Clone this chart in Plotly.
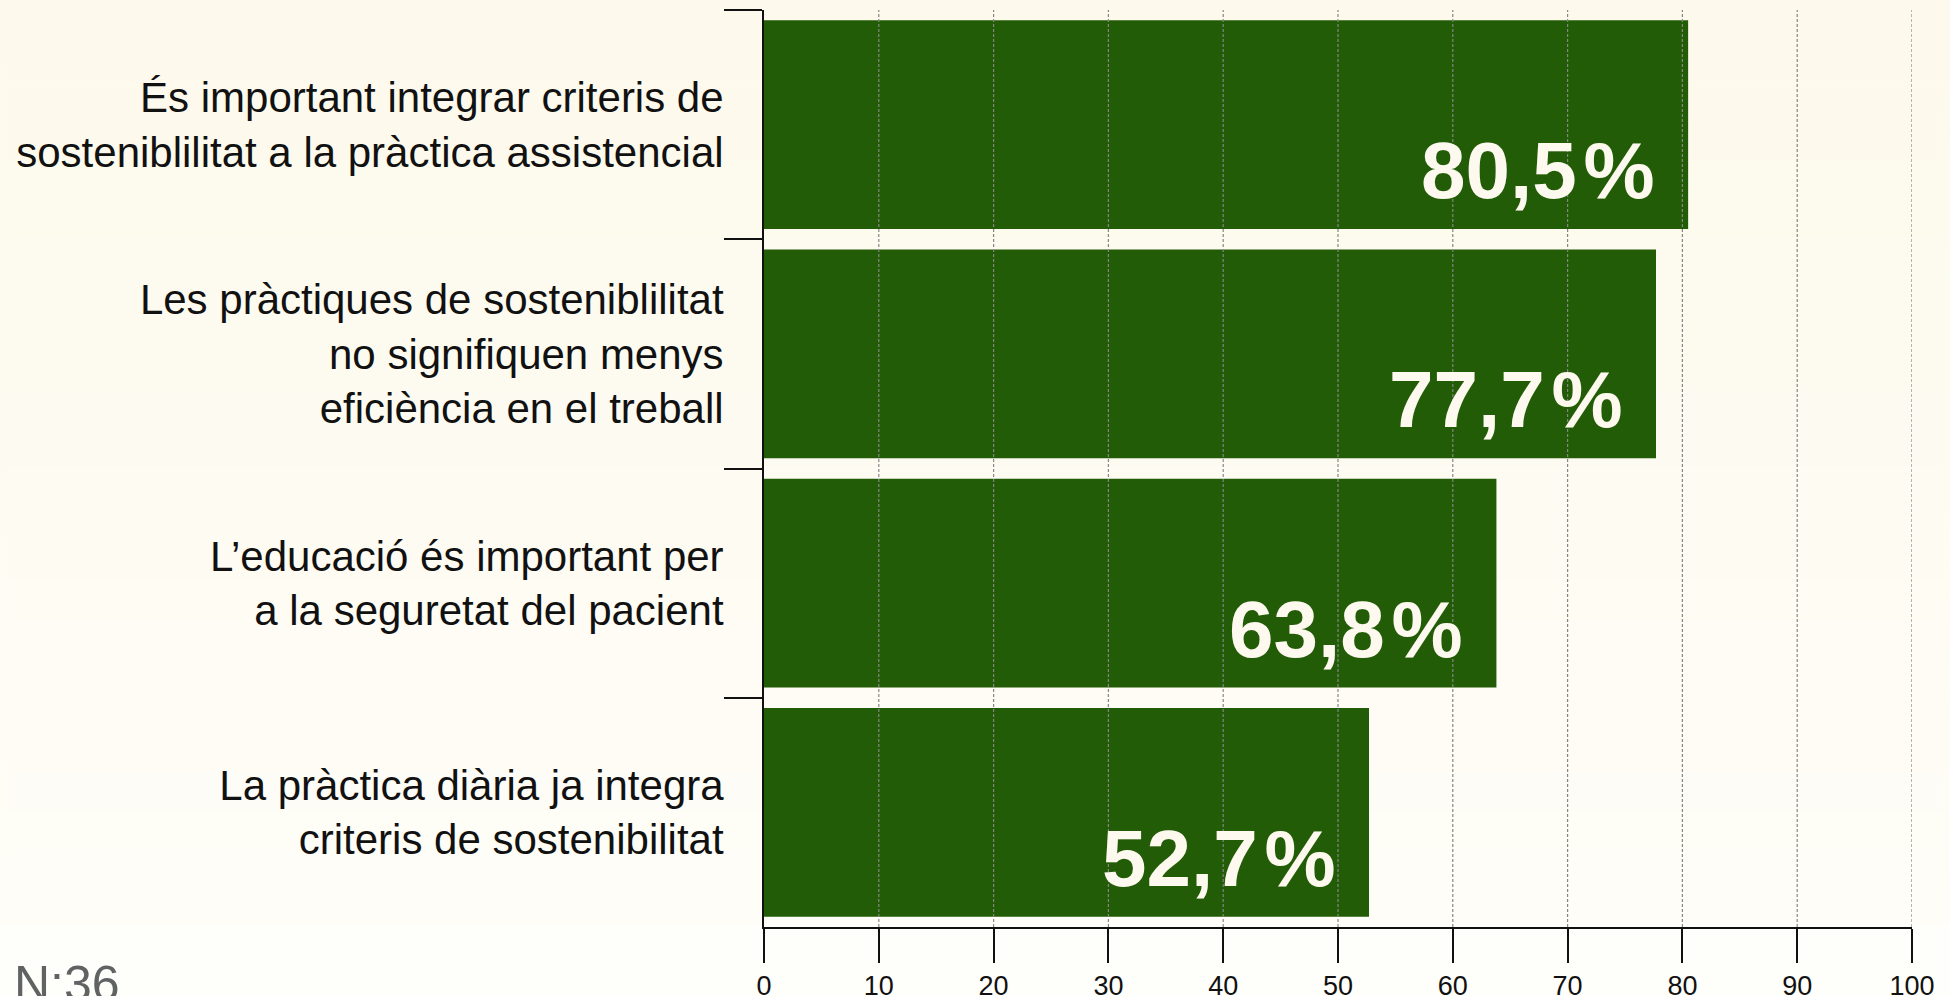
import plotly.graph_objects as go

categories = [
    "És important integrar criteris de<br>sosteniblilitat a la pràctica assistencial",
    "Les pràctiques de sosteniblilitat<br>no signifiquen menys<br>eficiència en el treball",
    "L’educació és important per<br>a la seguretat del pacient",
    "La pràctica diària ja integra<br>criteris de sostenibilitat",
]
values = [80.5, 77.7, 63.8, 52.7]
value_labels = ["80,5\u200a%", "77,7\u200a%", "63,8\u200a%", "52,7\u200a%"]
x_ticks = [0, 10, 20, 30, 40, 50, 60, 70, 80, 90, 100]
sample_note = "N:36"

W, H = 1950, 996
ML, MR, MT, MB = 756, 46, 2, 77
PW, PH = W - ML - MR, H - MT - MB
BAR = "#225c07"
CREAM = "#fdf9ee"
FONT = "Liberation Sans, Arial, sans-serif"


def py(px):
    """figure pixel (from top) -> paper y"""
    return (H - MB - px) / PH


def px_(x):
    """figure pixel (from left) -> paper x"""
    return (x - ML) / PW


fig = go.Figure()
fig.add_trace(go.Bar(
    x=values, y=categories, orientation="h",
    marker=dict(color=BAR, line=dict(width=0)),
    hoverinfo="skip",
))

shapes = []
top = (253, 249, 236)
bot = (254, 253, 247)
n = 24
for i in range(n):
    t = i / (n - 1)
    c = tuple(round(top[k] + (bot[k] - top[k]) * t) for k in range(3))
    y0p = i * (917 / n) - (8 if i == 0 else 0)
    y1p = (i + 1) * (917 / n)
    shapes.append(dict(
        type="rect", xref="paper", yref="paper", layer="below",
        x0=-1, x1=2, y0=py(y1p), y1=py(y0p),
        fillcolor="rgb(%d,%d,%d)" % c, line=dict(width=0),
    ))
shapes.append(dict(
    type="rect", xref="paper", yref="paper", layer="below",
    x0=-1, x1=2, y0=-1, y1=py(917),
    fillcolor="rgb(254,254,250)", line=dict(width=0),
))
for v in x_ticks[1:]:
    shapes.append(dict(
        type="line", xref="x", yref="paper", layer="above",
        x0=v, x1=v, y0=0, y1=1,
        line=dict(color="#858585", width=1.2, dash="3px,2px"),
    ))

annotations = []
for cat, v, lab in zip(categories, values, value_labels):
    annotations.append(dict(
        x=v, y=cat, xref="x", yref="y", text=lab, showarrow=False,
        xanchor="right", yanchor="middle", xshift=-31, yshift=-46,
        font=dict(family=FONT, size=80, color=CREAM, weight="bold"),
    ))
annotations.append(dict(
    x=px_(4), y=py(946),
    xref="paper", yref="paper", text=sample_note, showarrow=False,
    xanchor="left", yanchor="top",
    font=dict(family=FONT, size=50, color="#606264"),
))

fig.update_layout(
    width=W, height=H,
    margin=dict(l=ML, r=MR, t=MT, b=MB, pad=0, autoexpand=False),
    paper_bgcolor="rgb(254,252,245)",
    plot_bgcolor="rgba(0,0,0,0)",
    bargap=0.09,
    showlegend=False,
    shapes=shapes,
    annotations=annotations,
    font=dict(family=FONT, color="#111111"),
)
fig.update_xaxes(
    range=[0, 100], tickvals=x_ticks, ticktext=[str(t) for t in x_ticks],
    showgrid=False, zeroline=False, automargin=False,
    showline=True, linecolor="#111111", linewidth=2,
    ticks="outside", ticklen=34, tickwidth=2, tickcolor="#111111",
    tickfont=dict(size=27, color="#111111"),
)
fig.update_yaxes(
    type="category", categoryorder="array", categoryarray=categories,
    autorange="reversed", automargin=False,
    showgrid=False, zeroline=False,
    showline=True, linecolor="#111111", linewidth=2,
    ticks="outside", tickson="boundaries", ticklen=38, tickwidth=2, tickcolor="#111111",
    ticklabelstandoff=30,
    tickfont=dict(size=42, color="#111111"),
)

page_bg = (
    "document.body.style.background="
    "'linear-gradient(to bottom, rgb(253,249,236) 0px, rgb(254,253,247) 925px, "
    "rgb(254,254,250) 926px, rgb(254,254,250) 100%)';"
)
fig.write_html("out.html", post_script=page_bg)
